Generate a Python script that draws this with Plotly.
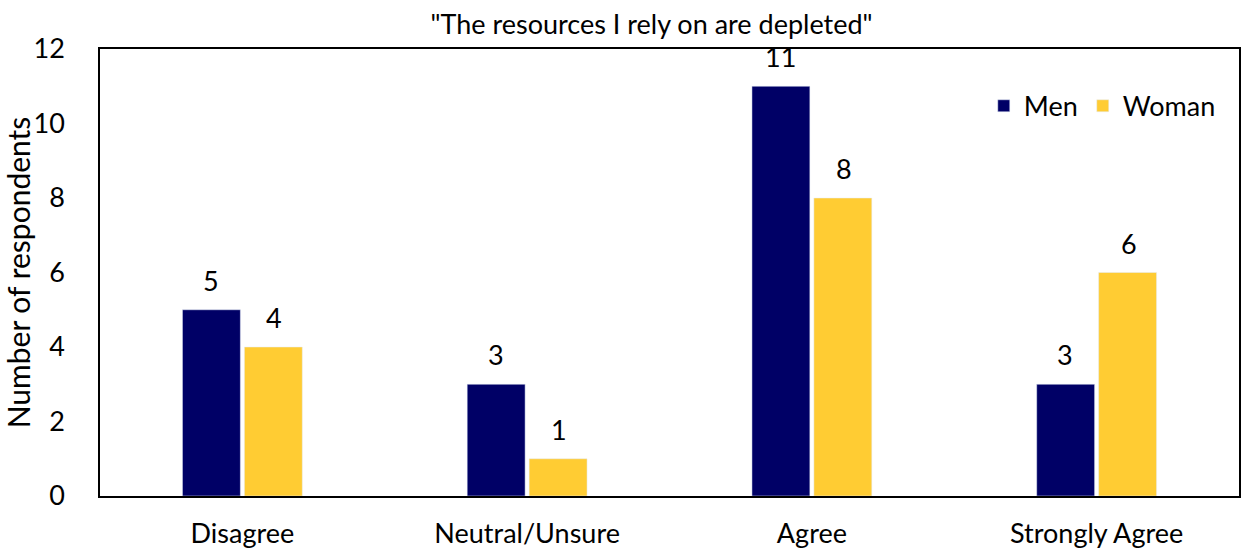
import plotly.graph_objects as go

# Survey responses by gender
categories = ["Disagree", "Neutral/Unsure", "Agree", "Strongly Agree"]
men = [5, 3, 11, 3]
woman = [4, 1, 8, 6]
y_ticks = [0, 2, 4, 6, 8, 10, 12]

NAVY = "#000066"
GOLD = "#FFCC33"
FONT = "Lato"

fig = go.Figure()
fig.add_trace(go.Bar(name="Men", x=categories, y=men, marker_color=NAVY))
fig.add_trace(go.Bar(name="Woman", x=categories, y=woman, marker_color=GOLD))

# value labels above each bar
for series, shift in ((men, -31.5), (woman, 32)):
    for cat, val in zip(categories, series):
        fig.add_annotation(
            x=cat, y=val, text=str(val), showarrow=False,
            xshift=shift, yshift=11, yanchor="bottom",
            font=dict(family=FONT, size=27, color="black"),
        )

fig.update_layout(
    width=1241, height=550,
    margin=dict(l=100, r=2, t=49, b=54),
    paper_bgcolor="white", plot_bgcolor="white",
    barmode="group", bargap=0.565, bargroupgap=0.065,
    font=dict(family=FONT, size=27, color="black"),
    title=dict(
        text='"The resources I rely on are depleted"',
        x=0.525, xanchor="center", y=0.955, yanchor="middle",
        font=dict(family=FONT, size=27, color="black"),
    ),
    legend=dict(
        orientation="h", x=0.984, xanchor="right", y=0.872, yanchor="middle",
        bgcolor="rgba(0,0,0,0)", font=dict(family=FONT, size=27),
        itemwidth=30,
    ),
    showlegend=True,
)

fig.update_xaxes(
    showline=True, linecolor="black", linewidth=1.5, mirror=True,
    showgrid=False, ticks="", ticklabelstandoff=13, automargin=False,
    tickfont=dict(family=FONT, size=27),
)
fig.update_yaxes(
    range=[0, 12], tickvals=y_ticks,
    showline=True, linecolor="black", linewidth=1.5, mirror=True,
    showgrid=False, zeroline=False, ticks="", ticklabelstandoff=28,
    automargin=False,
    tickfont=dict(family=FONT, size=27),
    title=dict(text="Number of respondents", standoff=4,
               font=dict(family=FONT, size=30)),
)

fig.write_html("out.html")
